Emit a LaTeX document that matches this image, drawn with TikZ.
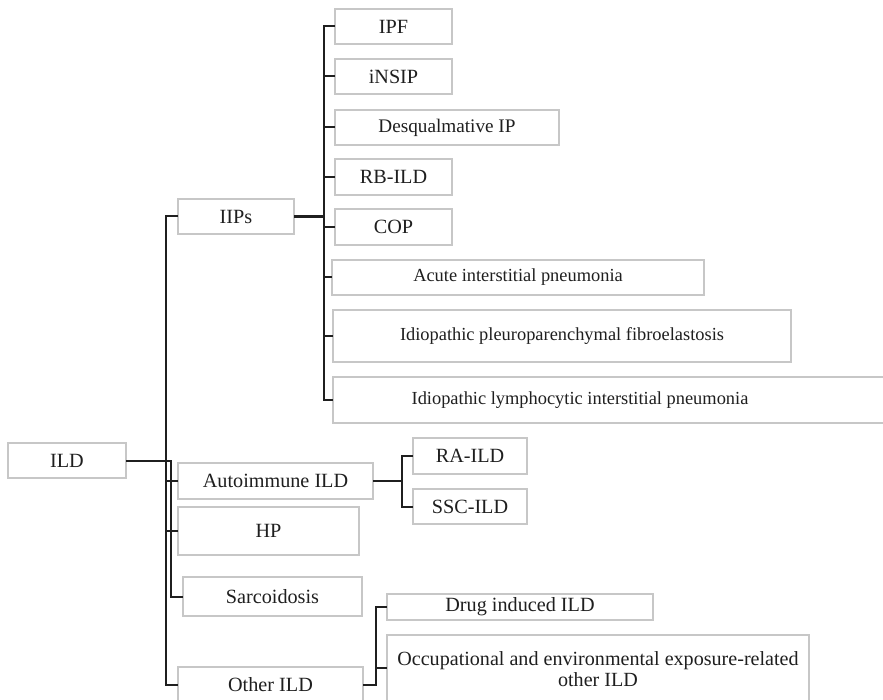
\documentclass[tikz,border=0pt]{standalone}
\usepackage{fontspec}
\setmainfont{Liberation Serif}
\begin{document}
\begin{tikzpicture}[x=1pt,y=-1pt,
  box/.style={draw=black!22,line width=1.3pt,fill=white,inner sep=0pt,outer sep=0pt,
    font=\fontsize{20.2}{21}\selectfont,text=black!88},
  smallbox/.style={box,font=\fontsize{18.4}{20}\selectfont},
  conn/.style={draw=black!88,line width=2pt}]
\path[use as bounding box,clip] (0,0) rectangle (883,700);
% level 0
\node[box,minimum width=118,minimum height=35] (ild) at (67,460.5) {ILD};
% level 1
\node[box,minimum width=116,minimum height=35] (iips) at (236,216.5) {IIPs};
\node[box,minimum width=195,minimum height=36] (auto) at (275.5,481) {Autoimmune ILD};
\node[box,minimum width=181,minimum height=48] (hp) at (268.5,531) {HP};
\node[box,minimum width=179,minimum height=39] (sarc) at (272.5,596.5) {Sarcoidosis};
\node[box,minimum width=185,minimum height=36] (other) at (270.5,685) {Other ILD};
% IIPs children
\node[box,minimum width=117,minimum height=35] (ipf) at (393.5,26.5) {IPF};
\node[box,minimum width=117,minimum height=35] (insip) at (393.5,76.5) {iNSIP};
\node[box,minimum width=224,minimum height=35,font=\fontsize{19.2}{20}\selectfont] (desq) at (447,127.5) {Desqualmative IP};
\node[box,minimum width=117,minimum height=36] (rb) at (393.5,177) {RB-ILD};
\node[box,minimum width=117,minimum height=36] (cop) at (393.5,227) {COP};
\node[smallbox,minimum width=372,minimum height=35] (aip) at (518,277.5) {Acute interstitial pneumonia};
\node[smallbox,minimum width=458,minimum height=52] (ppfe) at (562,336) {Idiopathic pleuroparenchymal fibroelastosis};
\node[smallbox,minimum width=557,minimum height=46] (lip) at (611.5,400) {};
\node[font=\fontsize{18.4}{20}\selectfont,text=black!88,inner sep=0pt] (liptext) at (580,400) {Idiopathic lymphocytic interstitial pneumonia};
% autoimmune children
\node[box,minimum width=114,minimum height=36] (ra) at (470,456) {RA-ILD};
\node[box,minimum width=114,minimum height=35] (ssc) at (470,506.5) {SSC-ILD};
% other children
\node[box,minimum width=266,minimum height=26] (drug) at (520,607) {Drug induced ILD};
\node[box,minimum width=422,minimum height=68,align=center,font=\fontsize{20.1}{20.5}\selectfont] (occ) at (598,669) {Occupational and environmental exposure-related\\other ILD};
% connectors: IIPs
\foreach \c in {ipf,insip,desq,rb,cop,aip,ppfe,lip}
  \draw[conn] (iips.east) -- ++(30,0) |- (\c.west);
\draw[conn,line width=2.6pt] (iips.east) -- ++(30,0);
% ILD
\draw[conn] (iips.west) -- ++(-12,0) |- (other.west);
\draw[conn] (ild.east) -- ++(45,0) |- (sarc.west);
\draw[conn] (auto.west) -- ++(-12,0);
\draw[conn] (hp.west) -- ++(-12,0);
% autoimmune
\draw[conn] (auto.east) -- ++(29,0) |- (ra.west);
\draw[conn] (auto.east) -- ++(29,0) |- (ssc.west);
% other
\draw[conn] (other.east) -- ++(13,0) |- (drug.west);
\draw[conn] (other.east) -- ++(13,0) |- ([yshift=1pt]occ.west);
\end{tikzpicture}
\end{document}
